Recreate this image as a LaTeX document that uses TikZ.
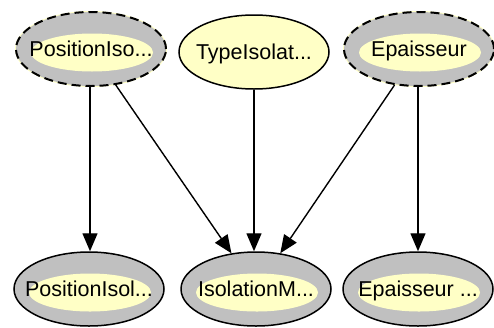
\documentclass[tikz,border=0pt]{standalone}
\usepackage{fontspec}
\setmainfont{Liberation Sans}
\usetikzlibrary{shapes.geometric,arrows.meta}
\definecolor{ringgrey}{HTML}{C0C0C0}
\definecolor{paleyellow}{HTML}{FFFFC6}
\tikzset{
  base/.style={ellipse, inner sep=0pt, minimum width=150pt, minimum height=74pt},
  lbl/.style={inner sep=0pt, font=\fontsize{21.5}{24}\selectfont, text height=15.4pt, text depth=0pt},
  ringnode/.style={base, draw, line width=1.5pt, fill=ringgrey,
    path picture={\fill[paleyellow] ([xshift=1pt,yshift=-3.5pt]path picture bounding box.center)
      ellipse [x radius=61pt, y radius=19pt];}},
  dashring/.style={ringnode, line width=2pt, dash pattern=on 9pt off 5pt,
    preaction={draw=paleyellow, line width=2pt, solid}},
  plainnode/.style={base, draw, line width=1.5pt, fill=paleyellow},
  arr/.style={draw, line width=1.4pt, -{Triangle[length=18pt,width=15pt]}}
}
\begin{document}
\begin{tikzpicture}[x=1pt,y=-1pt]
\useasboundingbox (0,0) rectangle (494,327);
\node[dashring]  (pa) at (91,49)  {};
\node[plainnode] (ta) at (254,52) {};
\node[dashring]  (ea) at (419,49) {};
\node[ringnode]  (pb) at (89,289) {};
\node[ringnode]  (ib) at (256,289) {};
\node[ringnode]  (eb) at (418,289) {};
\node[lbl] (pa-t) at (pa) {PositionIso...};
\node[lbl] (ta-t) at (ta) {TypeIsolat...};
\node[lbl] (ea-t) at (ea) {Epaisseur};
\node[lbl] (pb-t) at (pb) {PositionIsol...};
\node[lbl] (ib-t) at (ib) {IsolationM...};
\node[lbl] (eb-t) at (eb) {Epaisseur ...};
\draw[arr] (pa.south -| 90,0) -- (pb.north -| 90,0);
\draw[arr] (pa) -- (ib);
\draw[arr] (ta) -- (ib.north -| ta);
\draw[arr] (ea) -- (ib);
\draw[arr] (ea.south -| 418,0) -- (eb.north -| 418,0);
\end{tikzpicture}
\end{document}
